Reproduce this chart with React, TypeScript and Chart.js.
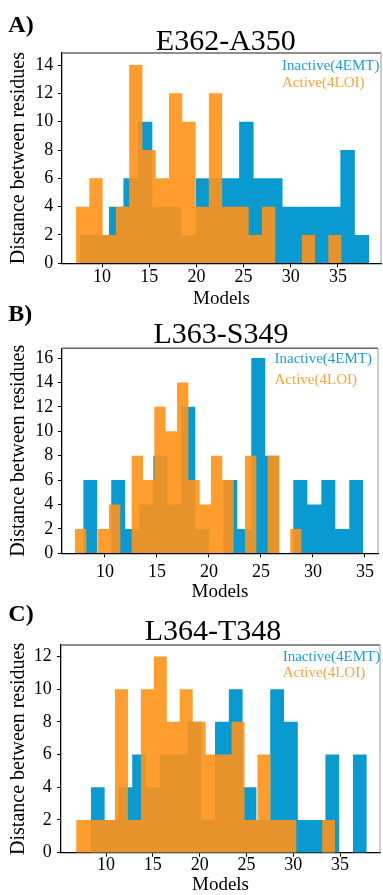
import React, { useEffect, useRef } from "react";
import { Chart, registerables } from "chart.js";

Chart.register(...registerables);

const FONT = "'Liberation Serif', 'Times New Roman', Times, serif";

// ---------- data (counts per histogram bin, 20 equal bins over each range) ----------
// Panel A : E362-A350
const inactiveA = [2, 2, 4, 6, 10, 4, 4, 2, 6, 6, 6, 10, 6, 6, 4, 4, 4, 4, 8, 2];
const activeA = [4, 6, 2, 4, 14, 8, 6, 12, 10, 4, 12, 4, 4, 2, 4, 0, 0, 2, 0, 2];
const inactiveRangeA = [7.67, 38.32];
const activeRangeA = [7.25, 35.39];

// Panel B : L363-S349
const inactiveB = [6, 0, 6, 2, 4, 8, 4, 12, 2, 0, 6, 2, 16, 8, 0, 6, 4, 6, 2, 6];
const activeB = [2, 0, 2, 4, 0, 8, 6, 12, 10, 14, 6, 4, 8, 6, 0, 8, 0, 8, 0, 2];
const inactiveRangeB = [7.91, 34.84];
const activeRangeB = [7.12, 28.91];

// Panel C : L364-T348
const inactiveC = [4, 2, 4, 6, 4, 6, 6, 8, 2, 8, 10, 4, 2, 10, 8, 2, 2, 6, 0, 6];
const activeC = [2, 2, 2, 10, 2, 10, 12, 8, 10, 8, 6, 6, 8, 2, 6, 2, 2, 0, 0, 2];
const inactiveRangeC = [8.38, 37.86];
const activeRangeC = [6.81, 34.48];

const xTicks = [10, 15, 20, 25, 30, 35];
const yTicksA = [0, 2, 4, 6, 8, 10, 12, 14];
const yTicksB = [0, 2, 4, 6, 8, 10, 12, 14, 16];
const yTicksC = [0, 2, 4, 6, 8, 10, 12];

const inactiveLabel = "Inactive(4EMT)";
const activeLabel = "Active(4LOI)";
const yTitle = "Distance between residues";
const xTitle = "Models";

// ---------- styles ----------
const BLUE = "#0a9ad2";
const ORANGE = "rgba(255,146,24,0.9)";
const BLUE_TEXT = "#1c9fd8";
const ORANGE_TEXT = "#ffa33a";

type PanelCfg = {
  letter: string;
  title: string;
  inactive: number[];
  active: number[];
  inactiveRange: number[];
  activeRange: number[];
  yTicks: number[];
  xMin: number;
  xMax: number;
  yMax: number;
  top: number;
  height: number;
  area: { left: number; right: number; top: number; bottom: number };
  xTickPad: number;
  xTitlePad: number;
  yTickPad: number;
  letterY: number;
  titleX: number;
  titleY: number;
  legendX: number;
  legendY1: number;
  legendY2: number;
};

const panels: PanelCfg[] = [
  {
    letter: "A)",
    title: "E362-A350",
    inactive: inactiveA,
    active: activeA,
    inactiveRange: inactiveRangeA,
    activeRange: activeRangeA,
    yTicks: yTicksA,
    xMin: 5.76,
    xMax: 39.56,
    yMax: 14.85,
    top: 0,
    height: 310,
    area: { left: 62, right: 381, top: 53, bottom: 263.3 },
    xTickPad: 0.5,
    xTitlePad: 1.3,
    yTickPad: 4.7,
    letterY: 32,
    titleX: 225.8,
    titleY: 50,
    legendX: 282,
    legendY1: 70,
    legendY2: 86.6,
  },
  {
    letter: "B)",
    title: "L363-S349",
    inactive: inactiveB,
    active: activeB,
    inactiveRange: inactiveRangeB,
    activeRange: activeRangeB,
    yTicks: yTicksB,
    xMin: 5.87,
    xMax: 36.25,
    yMax: 16.8,
    top: 295,
    height: 310,
    area: { left: 62, right: 378, top: 53.3, bottom: 258.3 },
    xTickPad: 6,
    xTitlePad: 3.5,
    yTickPad: 4.7,
    letterY: 26,
    titleX: 221,
    titleY: 48,
    legendX: 274.5,
    legendY1: 68.3,
    legendY2: 89,
  },
  {
    letter: "C)",
    title: "L364-T348",
    inactive: inactiveC,
    active: activeC,
    inactiveRange: inactiveRangeC,
    activeRange: activeRangeC,
    yTicks: yTicksC,
    xMin: 5.19,
    xMax: 39.27,
    yMax: 12.7,
    top: 595,
    height: 300,
    area: { left: 61, right: 380, top: 50, bottom: 257.7 },
    xTickPad: 0,
    xTitlePad: 0,
    yTickPad: 5.3,
    letterY: 26,
    titleX: 213,
    titleY: 45,
    legendX: 282.7,
    legendY1: 65.6,
    legendY2: 82.3,
  },
];

function histPoints(counts: number[], range: number[]) {
  const n = counts.length;
  const lo = range[0];
  const hi = range[1];
  const w = (hi - lo) / n;
  const pts = counts.map((c, k) => ({ x: lo + k * w, y: c }));
  pts.push({ x: hi, y: 0 });
  return pts;
}

const decorPlugin = {
  id: "decor",
  afterDraw(chart: any, _args: any, opts: any) {
    const { ctx, chartArea: a } = chart;
    ctx.save();
    // top and right frame lines
    ctx.strokeStyle = "#6a6a6a";
    ctx.lineWidth = 1.6;
    ctx.beginPath();
    ctx.moveTo(a.left, a.top);
    ctx.lineTo(a.right, a.top);
    ctx.stroke();
    ctx.strokeStyle = "#9a9a9a";
    ctx.lineWidth = 1;
    ctx.beginPath();
    ctx.moveTo(a.right, a.top);
    ctx.lineTo(a.right, a.bottom);
    ctx.stroke();

    ctx.textBaseline = "alphabetic";
    ctx.fillStyle = "#000";
    ctx.textAlign = "left";
    ctx.font = `bold 24px ${FONT}`;
    ctx.fillText(opts.letter, 8.3, opts.letterY);

    ctx.textAlign = "center";
    ctx.font = `30px ${FONT}`;
    ctx.fillText(opts.title, opts.titleX, opts.titleY);

    ctx.textAlign = "left";
    ctx.font = `15px ${FONT}`;
    ctx.fillStyle = BLUE_TEXT;
    ctx.fillText(inactiveLabel, opts.legendX, opts.legendY1);
    ctx.fillStyle = ORANGE_TEXT;
    ctx.fillText(activeLabel, opts.legendX, opts.legendY2);
    ctx.restore();
  },
};

function Panel({ p }: { p: PanelCfg }) {
  const ref = useRef<HTMLCanvasElement | null>(null);

  useEffect(() => {
    const canvas = ref.current;
    if (!canvas) return;
    const xAxisH = p.height - p.area.bottom;
    const tickGrid = {
      display: true,
      drawOnChartArea: false,
      drawTicks: true,
      tickLength: 4,
      tickColor: "#000",
      tickWidth: 1,
    };
    const chart = new Chart(canvas, {
      type: "line",
      data: {
        datasets: [
          {
            label: activeLabel,
            data: histPoints(p.active, p.activeRange),
            stepped: true,
            fill: "origin",
            backgroundColor: ORANGE,
            borderColor: "rgba(0,0,0,0)",
            borderWidth: 0,
            pointRadius: 0,
            order: 1,
          },
          {
            label: inactiveLabel,
            data: histPoints(p.inactive, p.inactiveRange),
            stepped: true,
            fill: "origin",
            backgroundColor: BLUE,
            borderColor: "rgba(0,0,0,0)",
            borderWidth: 0,
            pointRadius: 0,
            order: 2,
          },
        ],
      },
      options: {
        responsive: false,
        animation: false,
        events: [],
        layout: {
          padding: { left: 0, top: p.area.top, right: 383 - p.area.right, bottom: 0 },
        },
        plugins: {
          legend: { display: false },
          tooltip: { enabled: false },
          title: { display: false },
          decor: {
            letter: p.letter,
            title: p.title,
            letterY: p.letterY,
            titleX: p.titleX,
            titleY: p.titleY,
            legendX: p.legendX,
            legendY1: p.legendY1,
            legendY2: p.legendY2,
          },
        } as any,
        scales: {
          x: {
            type: "linear",
            min: p.xMin,
            max: p.xMax,
            afterBuildTicks: (s: any) => {
              s.ticks = xTicks.map((v) => ({ value: v }));
            },
            afterFit: (s: any) => {
              s.height = xAxisH;
            },
            grid: tickGrid,
            border: { display: true, color: "#000", width: 1.3 },
            ticks: {
              font: { family: FONT, size: 18, lineHeight: 1 },
              color: "#000",
              padding: p.xTickPad,
              maxRotation: 0,
              autoSkip: false,
            },
            title: {
              display: true,
              text: xTitle,
              color: "#000",
              font: { family: FONT, size: 19, lineHeight: 1 },
              padding: { top: 0, bottom: p.xTitlePad },
            },
          },
          y: {
            type: "linear",
            min: 0,
            max: p.yMax,
            afterBuildTicks: (s: any) => {
              s.ticks = p.yTicks.map((v) => ({ value: v }));
            },
            afterFit: (s: any) => {
              s.width = p.area.left;
            },
            grid: tickGrid,
            border: { display: true, color: "#000", width: 1.3 },
            ticks: {
              font: { family: FONT, size: 18, lineHeight: 1 },
              color: "#000",
              padding: p.yTickPad,
              autoSkip: false,
            },
            title: {
              display: true,
              text: yTitle,
              color: "#000",
              font: { family: FONT, size: 20, lineHeight: 1 },
              padding: { top: 9, bottom: 0 },
            },
          },
        },
      } as any,
      plugins: [decorPlugin],
    });
    return () => chart.destroy();
  }, [p]);

  return (
    <canvas
      ref={ref}
      width={383}
      height={p.height}
      style={{ position: "absolute", left: 0, top: p.top, width: 383, height: p.height }}
    />
  );
}

export default function App() {
  return (
    <div
      style={{
        position: "absolute",
        left: 0,
        top: 0,
        width: 383,
        height: 895,
        background: "#fff",
        overflow: "hidden",
      }}
    >
      {panels.map((p) => (
        <Panel key={p.letter} p={p} />
      ))}
    </div>
  );
}
